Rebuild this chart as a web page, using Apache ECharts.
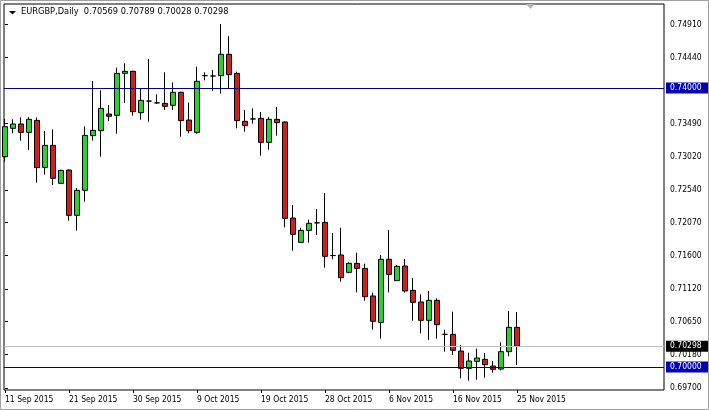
<!DOCTYPE html>
<html>
<head>
<meta charset="utf-8">
<script src="https://cdn.jsdelivr.net/npm/echarts@6/dist/echarts.min.js"></script>
<style>
html, body { margin: 0; padding: 0; background: #fff; }
#chart { width: 709px; height: 410px; }
</style>
</head>
<body>
<div id="chart"></div>
<script>
const dates = [
  '11 Sep 2015', '13 Sep 2015', '14 Sep 2015', '15 Sep 2015', '16 Sep 2015', '17 Sep 2015', '18 Sep 2015', '20 Sep 2015',
  '21 Sep 2015', '22 Sep 2015', '23 Sep 2015', '24 Sep 2015', '25 Sep 2015', '27 Sep 2015', '28 Sep 2015', '29 Sep 2015',
  '30 Sep 2015', '1 Oct 2015', '2 Oct 2015', '4 Oct 2015', '5 Oct 2015', '6 Oct 2015', '7 Oct 2015', '8 Oct 2015',
  '9 Oct 2015', '11 Oct 2015', '12 Oct 2015', '13 Oct 2015', '14 Oct 2015', '15 Oct 2015', '16 Oct 2015', '18 Oct 2015',
  '19 Oct 2015', '20 Oct 2015', '21 Oct 2015', '22 Oct 2015', '23 Oct 2015', '25 Oct 2015', '26 Oct 2015', '27 Oct 2015',
  '28 Oct 2015', '29 Oct 2015', '30 Oct 2015', '1 Nov 2015', '2 Nov 2015', '3 Nov 2015', '4 Nov 2015', '5 Nov 2015',
  '6 Nov 2015', '8 Nov 2015', '9 Nov 2015', '10 Nov 2015', '11 Nov 2015', '12 Nov 2015', '13 Nov 2015', '15 Nov 2015',
  '16 Nov 2015', '17 Nov 2015', '18 Nov 2015', '19 Nov 2015', '20 Nov 2015', '22 Nov 2015', '23 Nov 2015', '24 Nov 2015',
  '25 Nov 2015'
]

const openPrices = [
  0.73015, 0.73422, 0.73484, 0.73364, 0.73536, 0.72862, 0.73178, 0.72633,
  0.72824, 0.72174, 0.72533, 0.73317, 0.73388, 0.73627, 0.73608, 0.74210,
  0.74239, 0.73646, 0.73812, 0.73787, 0.73780, 0.73752, 0.73938, 0.73541,
  0.73364, 0.74177, 0.74172, 0.74177, 0.74483, 0.74210, 0.73522, 0.73556,
  0.73565, 0.73221, 0.73551, 0.73513, 0.72136, 0.71787, 0.71959, 0.72067,
  0.72074, 0.71598, 0.71606, 0.71357, 0.71486, 0.71414, 0.71018, 0.70640,
  0.71544, 0.71238, 0.71448, 0.71099, 0.70932, 0.70669, 0.70956, 0.70468,
  0.70468, 0.70229, 0.69981, 0.70081, 0.70110, 0.70014, 0.69971, 0.70220,
  0.70569
]
const closePrices = [
  0.73446, 0.73484, 0.73364, 0.73551, 0.72858, 0.73178, 0.72705, 0.72819,
  0.72174, 0.72533, 0.73321, 0.73393, 0.73708, 0.73594, 0.74210, 0.74239,
  0.73661, 0.73823, 0.73812, 0.73787, 0.73737, 0.73938, 0.73532, 0.73388,
  0.74096, 0.74177, 0.74172, 0.74483, 0.74191, 0.73532, 0.73460, 0.73556,
  0.73221, 0.73551, 0.73503, 0.72131, 0.71902, 0.71959, 0.72060, 0.72067,
  0.71587, 0.71598, 0.71281, 0.71486, 0.71414, 0.71008, 0.70655, 0.71544,
  0.71328, 0.71443, 0.71090, 0.70927, 0.70669, 0.70956, 0.70607, 0.70468,
  0.70239, 0.69981, 0.70086, 0.70129, 0.70033, 0.69967, 0.70220, 0.70569,
  0.70298
]
const lowPrices = [
  0.72944, 0.73350, 0.73245, 0.73111, 0.72643, 0.72757, 0.72609, 0.72628,
  0.72098, 0.71954, 0.72370, 0.73245, 0.73015, 0.73527, 0.73345, 0.73785,
  0.73603, 0.73546, 0.73517, 0.73772, 0.73685, 0.73685, 0.73302, 0.73350,
  0.73345, 0.74110, 0.73957, 0.73919, 0.74000, 0.73422, 0.73374, 0.73489,
  0.73030, 0.73116, 0.73317, 0.72002, 0.71668, 0.71778, 0.71782, 0.71892,
  0.71424, 0.71544, 0.71223, 0.71343, 0.71070, 0.70951, 0.70535, 0.70406,
  0.71070, 0.71233, 0.71066, 0.70664, 0.70483, 0.70387, 0.70406, 0.70220,
  0.70172, 0.69837, 0.69804, 0.69818, 0.69847, 0.69919, 0.69952, 0.70153,
  0.70028
]
const highPrices = [
  0.73556, 0.73551, 0.73579, 0.73584, 0.73579, 0.73383, 0.73407, 0.72829,
  0.72834, 0.72566, 0.73450, 0.74100, 0.73967, 0.73756, 0.74292, 0.74354,
  0.74249, 0.73986, 0.74416, 0.73909, 0.74225, 0.74081, 0.73947, 0.73790,
  0.74306, 0.74225, 0.74258, 0.74918, 0.74746, 0.74234, 0.73685, 0.73708,
  0.73656, 0.73584, 0.73728, 0.73522, 0.72322, 0.71997, 0.72112, 0.72265,
  0.72495, 0.71921, 0.71997, 0.71500, 0.71639, 0.71481, 0.71066, 0.71606,
  0.71964, 0.71462, 0.71548, 0.71276, 0.71042, 0.71090, 0.70984, 0.70535,
  0.70793, 0.70315, 0.70205, 0.70263, 0.70201, 0.70086, 0.70354, 0.70803,
  0.70789
]

const priceTicks = [0.69700, 0.70180, 0.70650, 0.71120, 0.71600, 0.72070, 0.72540, 0.73020, 0.73490, 0.74440, 0.74910]
const dateTicks = [0, 8, 16, 24, 32, 40, 48, 56, 64]
const levelLines = [0.74000, 0.70000]
const symbolName = 'EURGBP,Daily'

const font = '"DejaVu Sans Condensed", "Liberation Sans", sans-serif'
const last = closePrices.length - 1

const candles = dates.map((d, i) => [i, openPrices[i], closePrices[i], lowPrices[i], highPrices[i]])

const tagLabel = (bg) => ({
  show: true,
  position: 'end',
  distance: 2,
  formatter: p => p.value.toFixed(5),
  color: '#fff',
  backgroundColor: bg,
  padding: [1, 0, 0, 4],
  width: 38,
  lineHeight: 10,
  fontSize: 8.5,
  fontFamily: font
})

const chart = echarts.init(document.getElementById('chart'), null, { renderer: 'canvas' })

chart.setOption({
  animation: false,
  backgroundColor: '#fff',
  title: {
    text: symbolName + '  ' + [openPrices[last], highPrices[last], lowPrices[last], closePrices[last]].map(v => v.toFixed(5)).join(' '),
    left: 21,
    top: 7,
    padding: 0,
    textStyle: { fontSize: 9.2, fontWeight: 'normal', color: '#000', fontFamily: font }
  },
  grid: {
    show: true,
    left: 4,
    right: 45,
    top: 4,
    bottom: 20,
    borderColor: '#000',
    borderWidth: 1,
    backgroundColor: '#fff'
  },
  xAxis: {
    type: 'value',
    min: -0.125,
    max: 82.375,
    axisLine: { show: false },
    splitLine: { show: false },
    axisTick: { show: true, length: 3, customValues: dateTicks, lineStyle: { color: '#000' } },
    axisLabel: {
      customValues: dateTicks,
      formatter: v => dates[v],
      align: 'left',
      margin: 5,
      color: '#000',
      fontSize: 8.5,
      fontFamily: font
    }
  },
  yAxis: {
    type: 'value',
    position: 'right',
    min: 0.696703,
    max: 0.752043,
    axisLine: { show: false },
    splitLine: { show: false },
    axisTick: { show: true, length: 3, customValues: priceTicks, lineStyle: { color: '#000' } },
    axisLabel: {
      customValues: priceTicks,
      formatter: v => v.toFixed(5),
      margin: 6,
      color: '#000',
      fontSize: 8.5,
      fontFamily: font
    }
  },
  series: [{
    type: 'candlestick',
    data: candles,
    encode: { x: 0, y: [1, 2, 3, 4] },
    barWidth: 5,
    clip: true,
    itemStyle: {
      color: '#32cd32',
      color0: '#cc1f1f',
      borderColor: '#000',
      borderColor0: '#000',
      borderColorDoji: '#000',
      borderWidth: 1
    },
    markLine: {
      silent: true,
      symbol: 'none',
      precision: 5,
      animation: false,
      data: [
        { yAxis: closePrices[last], lineStyle: { color: '#c0c0c0', width: 1, type: 'solid' }, label: tagLabel('#000') },
        { yAxis: levelLines[0], lineStyle: { color: '#000080', width: 1, type: 'solid' }, label: tagLabel('#0000b4') },
        { yAxis: levelLines[1], lineStyle: { color: '#000080', width: 1, type: 'solid' }, label: tagLabel('#0000b4') }
      ]
    }
  }],
  graphic: [
    {
      type: 'rect',
      shape: { x: 0.5, y: 0.5, width: 708, height: 409 },
      style: { fill: 'none', stroke: '#a0a0a0', lineWidth: 1 },
      silent: true
    },
    {
      type: 'polygon',
      shape: { points: [[9, 11], [16, 11], [12.5, 14.5]] },
      style: { fill: '#000' },
      silent: true
    },
    {
      type: 'polygon',
      shape: { points: [[526, 4], [535, 4], [530.5, 9]] },
      style: { fill: '#b4b4b4' },
      silent: true
    }
  ]
})
</script>
</body>
</html>
